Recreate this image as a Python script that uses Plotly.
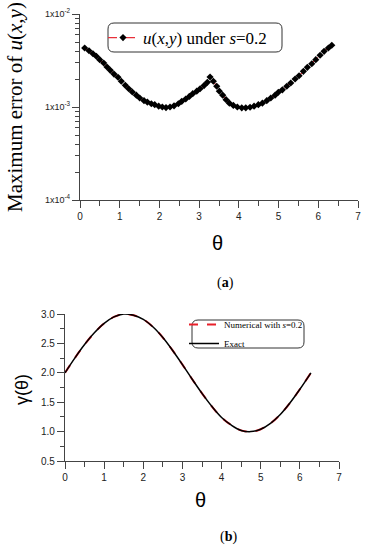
import plotly.graph_objects as go

# ---------------- data (a) ----------------
theta_a = [0.118, 0.227, 0.327, 0.411, 0.496, 0.597, 0.680, 0.763, 0.856, 0.957,
           1.040, 1.141, 1.227, 1.317, 1.418, 1.504, 1.612, 1.695, 1.796, 1.882,
           1.982, 2.073, 2.166, 2.267, 2.368, 2.476, 2.562, 2.662, 2.753, 2.839,
           2.940, 3.023, 3.123, 3.207, 3.275, 3.358, 3.443, 3.509, 3.594, 3.678,
           3.761, 3.861, 3.962, 4.073, 4.174, 4.282, 4.383, 4.491, 4.592, 4.703,
           4.804, 4.912, 4.995, 5.096, 5.207, 5.307, 5.416, 5.516, 5.625, 5.725,
           5.836, 5.937, 6.045, 6.146, 6.254, 6.340]
err_a = [4.31e-3, 4.03e-3, 3.74e-3, 3.51e-3, 3.23e-3, 2.97e-3, 2.69e-3, 2.48e-3, 2.26e-3, 2.09e-3,
         1.89e-3, 1.71e-3, 1.57e-3, 1.45e-3, 1.34e-3, 1.25e-3, 1.17e-3, 1.13e-3, 1.085e-3, 1.06e-3,
         1.02e-3, 1.00e-3, 0.985e-3, 1.00e-3, 1.03e-3, 1.085e-3, 1.15e-3, 1.22e-3, 1.30e-3, 1.39e-3,
         1.48e-3, 1.57e-3, 1.70e-3, 1.84e-3, 2.10e-3, 1.89e-3, 1.67e-3, 1.48e-3, 1.34e-3, 1.20e-3,
         1.10e-3, 1.04e-3, 1.00e-3, 0.98e-3, 0.98e-3, 0.993e-3, 1.02e-3, 1.06e-3, 1.10e-3, 1.17e-3,
         1.25e-3, 1.34e-3, 1.44e-3, 1.53e-3, 1.67e-3, 1.81e-3, 2.00e-3, 2.17e-3, 2.42e-3, 2.67e-3,
         2.92e-3, 3.23e-3, 3.60e-3, 3.97e-3, 4.31e-3, 4.61e-3]
a_ticks = [1e-4, 1e-3, 1e-2]
a_ticktext = ["1x10<sup>-4</sup>", "1x10<sup>-3</sup>", "1x10<sup>-2</sup>"]
a_minor = [2e-4, 3e-4, 4e-4, 5e-4, 6e-4, 7e-4, 8e-4, 9e-4,
           2e-3, 3e-3, 4e-3, 5e-3, 6e-3, 7e-3, 8e-3, 9e-3]

# ---------------- data (b) ----------------
theta_b = [0.0, 0.25, 0.5, 0.75, 1.0, 1.25, 1.5, 1.75, 2.0, 2.25, 2.5, 2.75, 3.0,
           3.25, 3.5, 3.75, 4.0, 4.25, 4.5, 4.75, 5.0, 5.25, 5.5, 5.75, 6.0, 6.283]
gamma_num = [2.00, 2.25, 2.48, 2.68, 2.84, 2.95, 3.00, 2.98, 2.91, 2.78, 2.60, 2.38, 2.14,
             1.89, 1.65, 1.43, 1.24, 1.11, 1.02, 1.00, 1.04, 1.14, 1.29, 1.49, 1.72, 2.00]
gamma_exact = [2.00, 2.25, 2.48, 2.68, 2.84, 2.95, 3.00, 2.98, 2.91, 2.78, 2.60, 2.38, 2.14,
               1.89, 1.65, 1.43, 1.24, 1.11, 1.02, 1.00, 1.04, 1.14, 1.29, 1.49, 1.72, 2.00]

W, H = 365, 550
SANS = "Liberation Sans, Arial, sans-serif"
SERIF = "Liberation Serif, Times New Roman, serif"


def px(x):
    return x / W


def py(y):
    return 1 - y / H


def rounded_rect(x0, y0, x1, y1, r):
    X0, X1 = px(x0), px(x1)
    Y0, Y1 = py(y0), py(y1)
    rx, ry = r / W, r / H
    return (f"M {X0+rx},{Y0} L {X1-rx},{Y0} Q {X1},{Y0} {X1},{Y0-ry} "
            f"L {X1},{Y1+ry} Q {X1},{Y1} {X1-rx},{Y1} L {X0+rx},{Y1} "
            f"Q {X0},{Y1} {X0},{Y1+ry} L {X0},{Y0-ry} Q {X0},{Y0} {X0+rx},{Y0} Z")


def label(text, x, y, size, family, angle=0):
    return dict(text=text, x=px(x), y=py(y), xref="paper", yref="paper",
                xanchor="center", yanchor="middle", showarrow=False, textangle=angle,
                font=dict(family=family, size=size, color="black"))


fig = go.Figure()

fig.add_trace(go.Scatter(
    x=theta_a, y=err_a, mode="lines+markers",
    name="<i>u</i>(<i>x</i>,<i>y</i>) under <i>s</i>=0.2",
    line=dict(color="#e8303a", width=1.2, dash="dash"),
    marker=dict(symbol="diamond", color="black", size=5.5),
    xaxis="x", yaxis="y", legend="legend"))

fig.add_trace(go.Scatter(
    x=theta_b, y=gamma_num, mode="lines", line_shape="spline",
    name="Numerical with <i>s</i>=0.2",
    line=dict(color="#e8202a", width=2, dash="dash"),
    xaxis="x2", yaxis="y2", legend="legend2"))
fig.add_trace(go.Scatter(
    x=theta_b, y=gamma_exact, mode="lines", line_shape="spline",
    name="Exact",
    line=dict(color="black", width=1.5),
    xaxis="x2", yaxis="y2", legend="legend2"))

axis_common = dict(showline=True, linecolor="#444", linewidth=1.2, showgrid=False,
                   zeroline=False, ticks="outside", tickcolor="#444", ticklen=7,
                   tickwidth=1.2, automargin=False,
                   tickfont=dict(family=SANS, size=10, color="#222"))
minor_x = dict(tickvals=[0.5, 1.5, 2.5, 3.5, 4.5, 5.5, 6.5], ticks="outside",
               ticklen=5, tickcolor="#444", tickwidth=1.2)

fig.update_layout(
    width=W, height=H, margin=dict(l=0, r=0, t=0, b=0, autoexpand=False),
    paper_bgcolor="white", plot_bgcolor="white",
    xaxis=dict(domain=[px(80), px(358)], range=[0, 7], anchor="y",
               tickvals=[0, 1, 2, 3, 4, 5, 6, 7], minor=minor_x, **axis_common),
    yaxis=dict(domain=[py(200), py(14)], type="log", range=[-4, -2], anchor="x",
               tickvals=a_ticks, ticktext=a_ticktext,
               minor=dict(tickvals=a_minor, ticks="outside", ticklen=4,
                          tickcolor="#444", tickwidth=1.2),
               **{**axis_common, "tickfont": dict(family=SANS, size=9, color="#222")}),
    xaxis2=dict(domain=[px(65), px(339)], range=[0, 7], anchor="y2",
                tickvals=[0, 1, 2, 3, 4, 5, 6, 7], minor=minor_x, **axis_common),
    yaxis2=dict(domain=[py(461), py(314)], range=[0.5, 3.0], anchor="x2",
                tickvals=[0.5, 1.0, 1.5, 2.0, 2.5, 3.0], tickformat=".1f",
                minor=dict(tickvals=[0.75, 1.25, 1.75, 2.25, 2.75], ticks="outside",
                           ticklen=4, tickcolor="#444", tickwidth=1.2),
                **axis_common),
    legend=dict(x=px(103), y=py(38), xanchor="left", yanchor="middle",
                bgcolor="rgba(0,0,0,0)", borderwidth=0,
                font=dict(family=SERIF, size=17, color="black"),
                itemwidth=30, tracegroupgap=0),
    legend2=dict(x=px(184), y=py(334), xanchor="left", yanchor="middle",
                 bgcolor="rgba(0,0,0,0)", borderwidth=0,
                 font=dict(family=SERIF, size=9, color="black"),
                 itemwidth=30, tracegroupgap=0),
    showlegend=True,
    shapes=[
        dict(type="path", xref="paper", yref="paper",
             path=rounded_rect(108, 23, 282, 52, 6),
             line=dict(color="#333", width=1), fillcolor="rgba(0,0,0,0)"),
        dict(type="path", xref="paper", yref="paper",
             path=rounded_rect(192, 320, 304, 348, 6),
             line=dict(color="#333", width=1), fillcolor="rgba(0,0,0,0)"),
    ],
    annotations=[
        label("Maximum error of <i>u</i>(<i>x</i>,<i>y</i>)", 15, 107, 21, SERIF, -90),
        label("θ", 217, 243, 20, SANS),
        label("(<b>a</b>)", 225, 283, 14, SERIF),
        label("γ(θ)", 22, 390, 18, SANS, -90),
        label("θ", 200, 500, 20, SANS),
        label("(<b>b</b>)", 228, 537, 14, SERIF),
    ],
)

fig.write_html("out.html", config={"displayModeBar": False},
               post_script="document.body.style.margin='0';"
                           "document.body.style.overflow='hidden';")
